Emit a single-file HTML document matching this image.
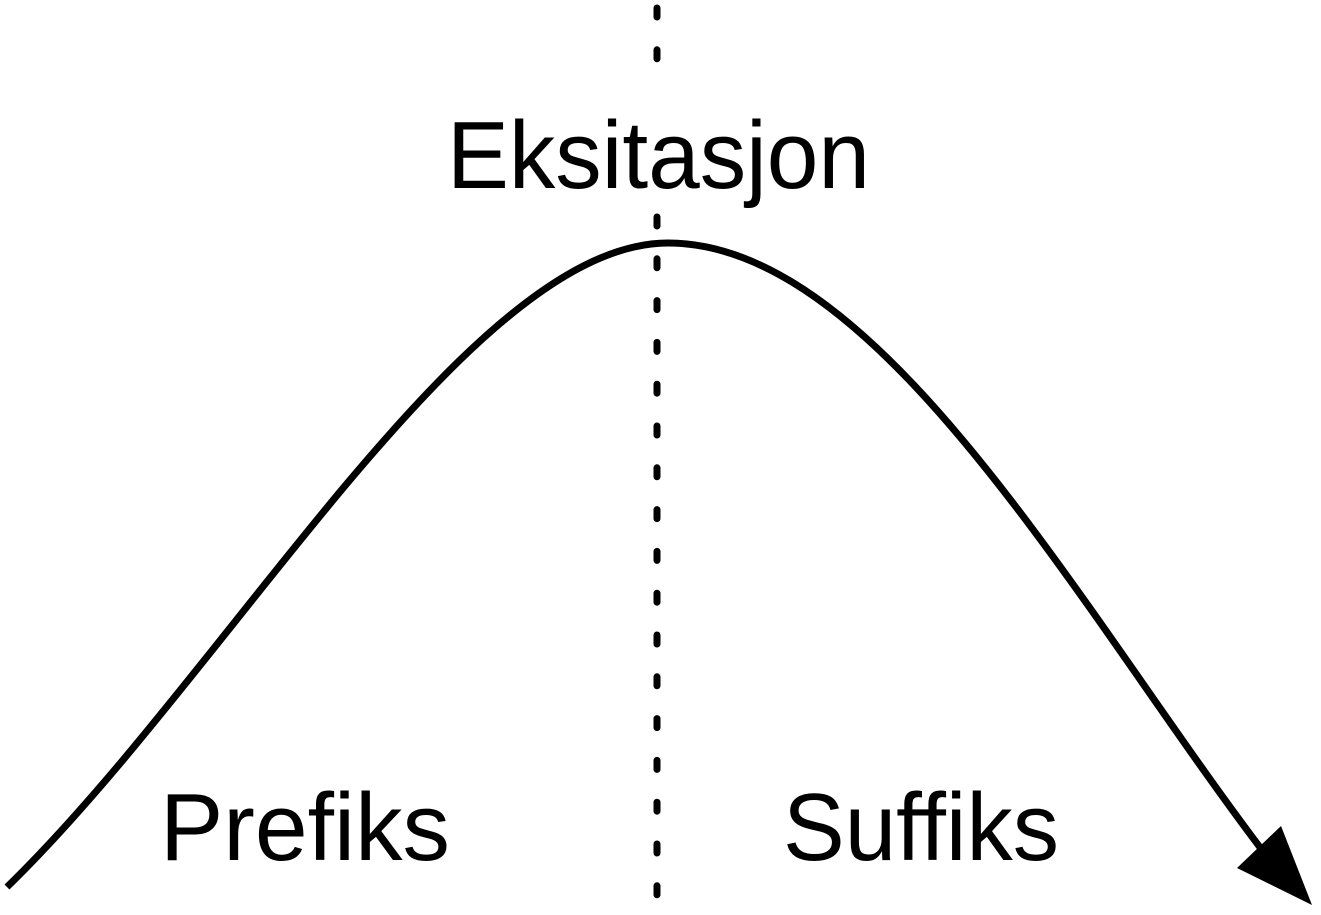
<!DOCTYPE html>
<html><head><meta charset="utf-8"><style>
html,body{margin:0;padding:0;background:#fff;}
svg{display:block;}
text{font-family:"Liberation Sans",sans-serif;fill:#000;}
</style></head><body>
<svg width="1321" height="915" viewBox="0 0 1321 915" xmlns="http://www.w3.org/2000/svg">
<line x1="657" y1="8" x2="657" y2="895" stroke="#000" stroke-width="7" stroke-linecap="round" stroke-dasharray="9 32.8"/>
<rect x="440" y="72" width="440" height="133" fill="#fff"/>
<text x="447" y="188" font-size="96" textLength="423" lengthAdjust="spacingAndGlyphs">Eksitasjon</text>
<path d="M7,887 C230,670 470,243 668,243 C880,243 1080,610 1262,850" fill="none" stroke="#000" stroke-width="7"/>
<polygon points="1237,868 1281,826 1312,905" fill="#000"/>
<text x="160" y="860" font-size="96" textLength="290" lengthAdjust="spacingAndGlyphs">Prefiks</text>
<text x="783" y="860" font-size="96" textLength="276" lengthAdjust="spacingAndGlyphs">Suffiks</text>
</svg>
</body></html>
